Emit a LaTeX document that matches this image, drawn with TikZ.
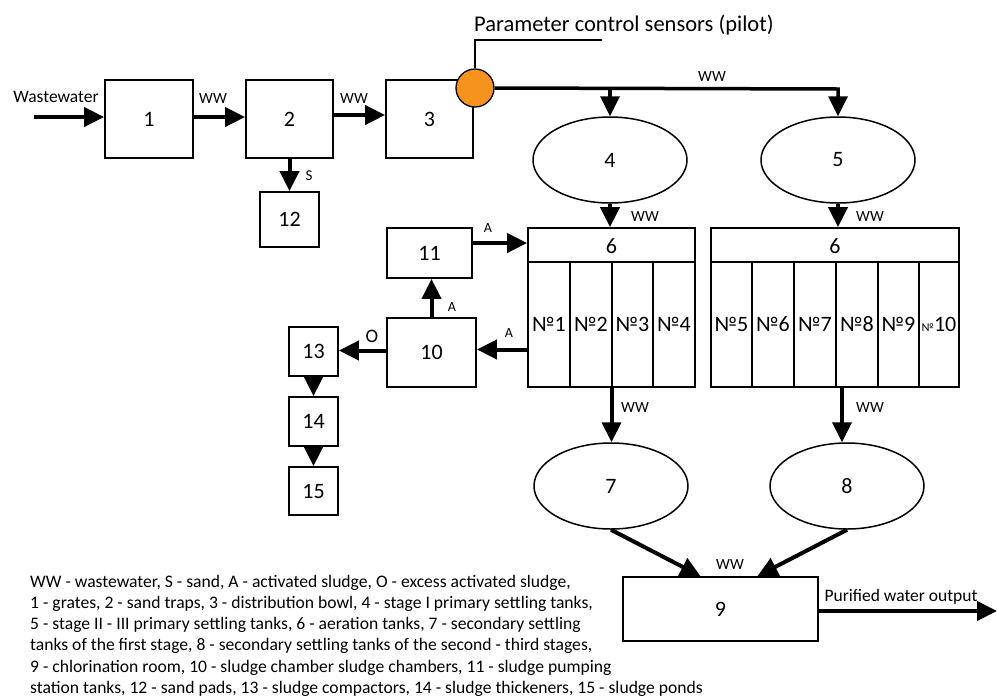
\documentclass[tikz,border=0pt]{standalone}
\usepackage{fontspec}
\setmainfont{Carlito}
\usetikzlibrary{arrows.meta,shapes.geometric}
\definecolor{sensor}{RGB}{245,147,30}
\begin{document}
\begin{tikzpicture}[x=1pt,y=-1pt,
  box/.style={draw, line width=1.8pt, inner sep=0pt, font=\fontsize{22}{26}\selectfont},
  tank/.style={draw, ellipse, line width=1.5pt, minimum width=154pt, minimum height=86pt, inner sep=0pt, font=\fontsize{22}{26}\selectfont},
  flow/.style={line width=4pt, -{Triangle[length=20pt,width=19pt]}},
  thinline/.style={line width=1.3pt},
  wwlab/.style={font=\fontsize{15.5}{18}\selectfont, inner sep=0pt},
  biglab/.style={font=\fontsize{17.5}{20}\selectfont, inner sep=0pt},
  col/.style={font=\fontsize{22}{26}\selectfont, inner sep=0pt},
  hdr/.style={font=\fontsize{22}{26}\selectfont, inner sep=0pt},
  legend/.style={font=\fontsize{17.6}{21.5}\selectfont, inner sep=0pt, anchor=base west}
]
\useasboundingbox (0,0) rectangle (997,697);

% boxes
\node[box, minimum width=88pt, minimum height=78pt] (b1) at (149,119) {1};
\node[box, minimum width=87pt, minimum height=78pt] (b2) at (289.5,119) {2};
\node[box, minimum width=87pt, minimum height=78pt] (b3) at (429.5,119) {3};
\node[box, minimum width=59pt, minimum height=55pt] (b12) at (289.5,219.5) {12};
\node[box, minimum width=85pt, minimum height=50pt] (b11) at (429.5,253) {11};
\node[box, minimum width=89pt, minimum height=69pt] (b10) at (431.5,352.5) {10};
\node[box, minimum width=49pt, minimum height=49pt] (b13) at (313.5,351.5) {13};
\node[box, minimum width=49pt, minimum height=49pt] (b14) at (313.5,421.5) {14};
\node[box, minimum width=49pt, minimum height=48pt] (b15) at (313.5,491) {15};
\node[box, minimum width=195pt, minimum height=64pt] (b9) at (720.5,609) {9};

% aeration tanks
\node[box, minimum width=167pt, minimum height=159pt] (a6L) at (611.5,307.5) {};
\node[box, minimum width=248pt, minimum height=159pt] (a6R) at (835,307.5) {};
\draw[line width=1.8pt] (528,262) -- (695,262);
\draw[line width=1.8pt] (711,262) -- (959,262);
\foreach \x in {570,612,653} \draw[line width=1.8pt] (\x,262) -- (\x,387);
\foreach \x in {752,794,836,878,919} \draw[line width=1.8pt] (\x,262) -- (\x,387);
\node[hdr] (h6L) at (611.5,246) {6};
\node[hdr] (h6R) at (835,246) {6};
\node[col] (c1) at (549,324) {№1};
\node[col] (c2) at (591,324) {№2};
\node[col] (c3) at (632.5,324) {№3};
\node[col] (c4) at (674,324) {№4};
\node[col] (c5) at (731.5,324) {№5};
\node[col] (c6) at (773,324) {№6};
\node[col] (c7) at (815,324) {№7};
\node[col] (c8) at (857,324) {№8};
\node[col] (c9) at (898.5,324) {№9};
\node[col] (c10) at (939,324) {{\fontsize{12}{14}\selectfont №}10};

% ellipses
\node[tank] (e4) at (610,160) {4};
\node[tank] (e5) at (838,160) {5};
\node[tank] (e7) at (611,486) {7};
\node[tank] (e8) at (847,486) {8};

% sensor
\node[circle, draw, fill=sensor, line width=1.3pt, minimum size=38pt, inner sep=0pt] (sens) at (475,88) {};
\coordinate (ld1) at (475,40);
\coordinate (ld2) at (602,40);
\draw[thinline] (sens.north) -- (ld1) -- (ld2);
\node[anchor=west, inner sep=0pt, font=\fontsize{22.5}{26}\selectfont] (ptxt) at (474,25) {Parameter control sensors (pilot)};

% main flows
\coordinate (win) at (34,117);
\draw[flow] (win) -- (win -| b1.west);
\draw[flow] ([yshift=2pt]b1.east) -- ([yshift=2pt]b2.west);
\draw[flow] ([yshift=4pt]b2.east) -- ([yshift=4pt]b3.west);
\draw[flow] (b2.south) -- (b12.north);
\coordinate (j4) at (610,89);
\coordinate (j5) at (838,89);
\draw[flow, line width=3.5pt] (sens.east) -- (j5) -- (e5.north);
\draw[flow, line width=3.5pt] (j4) -- (e4.north);
\draw[flow] (e4.south) -- (e4.south |- a6L.north);
\draw[flow] (e5.south) -- (e5.south |- a6R.north);
\draw[flow] ([yshift=10pt]b11.east) -- ([yshift=10pt]b11.east -| a6L.west);
\draw[flow] (b10.north) -- (b10.north |- b11.south);
\draw[flow] ([yshift=3pt]b10.east -| a6L.west) -- ([yshift=3pt]b10.east);
\draw[flow] ([yshift=2pt]b10.west) -- ([yshift=2pt]b10.west -| b13.east);
\draw[flow] (b13.south) -- (b14.north);
\draw[flow] (b14.south) -- (b15.north);
\draw[flow] (a6L.south) -- (a6L.south |- e7.north);
\draw[flow] ([xshift=7pt]a6R.south) -- ([xshift=7pt]a6R.south |- e8.north);
\draw[flow] (e7.south) -- ([xshift=-20pt]b9.north);
\draw[flow] (e8.south) -- ([xshift=37pt]b9.north);
\coordinate (out) at (997,611);
\draw[flow] (b9.east |- out) -- (out);

% labels
\node[biglab] (lwaste) at (56,97) {Wastewater};
\node[wwlab] (lw1) at (213,99) {WW};
\node[wwlab] (lw2) at (354,99) {WW};
\node[wwlab, font=\fontsize{15}{18}\selectfont] (ls) at (309,176) {S};
\node[wwlab] (lwm) at (712,77) {WW};
\node[wwlab] (lw4) at (645,217) {WW};
\node[wwlab] (lw5) at (870,217) {WW};
\node[wwlab, font=\fontsize{14}{16}\selectfont] (la1) at (488,228) {A};
\node[wwlab, font=\fontsize{14}{16}\selectfont] (la2) at (452,307) {A};
\node[wwlab, font=\fontsize{14}{16}\selectfont] (la3) at (509,333) {A};
\node[wwlab, font=\fontsize{19}{22}\selectfont] (lo) at (372,336) {O};
\node[wwlab] (lw7) at (635,408) {WW};
\node[wwlab] (lw8) at (870,408) {WW};
\node[wwlab] (lw9) at (730,565) {WW};
\node[biglab] (lpur) at (901,597) {Purified water output};

% legend
\node[legend] (leg1) at (30,587) {WW - wastewater, S - sand, A - activated sludge, O - excess activated sludge,};
\node[legend] (leg2) at (30,608.3) {1 - grates, 2 - sand traps, 3 - distribution bowl, 4 - stage I primary settling tanks,};
\node[legend] (leg3) at (30,629.6) {5 - stage II - III primary settling tanks, 6 - aeration tanks, 7 - secondary settling};
\node[legend] (leg4) at (30,650.9) {tanks of the first stage, 8 - secondary settling tanks of the second - third stages,};
\node[legend] (leg5) at (30,672.2) {9 - chlorination room, 10 - sludge chamber sludge chambers, 11 - sludge pumping};
\node[legend] (leg6) at (30,693.5) {station tanks, 12 - sand pads, 13 - sludge compactors, 14 - sludge thickeners, 15 - sludge ponds};
\end{tikzpicture}
\end{document}
